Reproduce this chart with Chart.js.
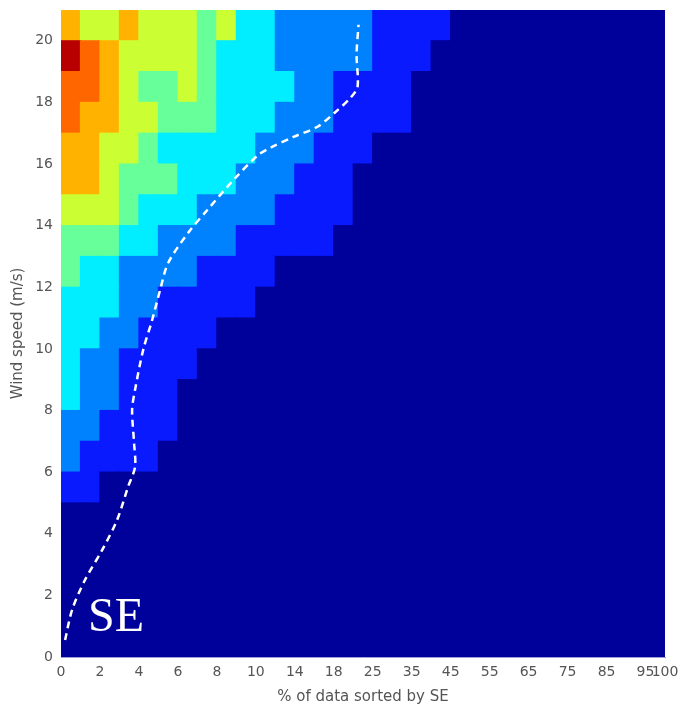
<!DOCTYPE html>
<html>
<head>
<meta charset="utf-8">
<script src="https://cdn.jsdelivr.net/npm/chart.js@4.4.1/dist/chart.umd.min.js"></script>
<style>
  html, body { margin: 0; padding: 0; background: #fff; }
  #wrap { width: 679px; height: 708px; }
</style>
</head>
<body>
<div id="wrap"><canvas id="heat"></canvas></div>
<script>
// x axis: 31 columns (sorted % bins), labels on column edges
var xTickPos = [0, 2, 4, 6, 8, 10, 12, 14, 16, 18, 20, 22, 24, 26, 28, 30, 31];
var xTickLabels = ['0', '2', '4', '6', '8', '10', '14', '18', '25', '35', '45', '55', '65', '75', '85', '95', '100'];
var yTickPos = [0, 2, 4, 6, 8, 10, 12, 14, 16, 18, 20];

// colour level of each cell, one row per 1 m/s bin (row 0 = 0-1 m/s)
var levelColors = ['#00009a', '#0a1aff', '#0082ff', '#00eeff', '#66ff99', '#ccff33', '#ffb300', '#ff6600', '#b80000'];

var row0  = [0,0,0,0,0,0,0,0,0,0,0,0,0,0,0,0,0,0,0,0,0,0,0,0,0,0,0,0,0,0,0];
var row1  = [0,0,0,0,0,0,0,0,0,0,0,0,0,0,0,0,0,0,0,0,0,0,0,0,0,0,0,0,0,0,0];
var row2  = [0,0,0,0,0,0,0,0,0,0,0,0,0,0,0,0,0,0,0,0,0,0,0,0,0,0,0,0,0,0,0];
var row3  = [0,0,0,0,0,0,0,0,0,0,0,0,0,0,0,0,0,0,0,0,0,0,0,0,0,0,0,0,0,0,0];
var row4  = [0,0,0,0,0,0,0,0,0,0,0,0,0,0,0,0,0,0,0,0,0,0,0,0,0,0,0,0,0,0,0];
var row5  = [1,1,0,0,0,0,0,0,0,0,0,0,0,0,0,0,0,0,0,0,0,0,0,0,0,0,0,0,0,0,0];
var row6  = [2,1,1,1,1,0,0,0,0,0,0,0,0,0,0,0,0,0,0,0,0,0,0,0,0,0,0,0,0,0,0];
var row7  = [2,2,1,1,1,1,0,0,0,0,0,0,0,0,0,0,0,0,0,0,0,0,0,0,0,0,0,0,0,0,0];
var row8  = [3,2,2,1,1,1,0,0,0,0,0,0,0,0,0,0,0,0,0,0,0,0,0,0,0,0,0,0,0,0,0];
var row9  = [3,2,2,1,1,1,1,0,0,0,0,0,0,0,0,0,0,0,0,0,0,0,0,0,0,0,0,0,0,0,0];
var row10 = [3,3,2,2,1,1,1,1,0,0,0,0,0,0,0,0,0,0,0,0,0,0,0,0,0,0,0,0,0,0,0];
var row11 = [3,3,3,2,2,1,1,1,1,1,0,0,0,0,0,0,0,0,0,0,0,0,0,0,0,0,0,0,0,0,0];
var row12 = [4,3,3,2,2,2,2,1,1,1,1,0,0,0,0,0,0,0,0,0,0,0,0,0,0,0,0,0,0,0,0];
var row13 = [4,4,4,3,3,2,2,2,2,1,1,1,1,1,0,0,0,0,0,0,0,0,0,0,0,0,0,0,0,0,0];
var row14 = [5,5,5,4,3,3,3,2,2,2,2,1,1,1,1,0,0,0,0,0,0,0,0,0,0,0,0,0,0,0,0];
var row15 = [6,6,5,4,4,4,3,3,3,2,2,2,1,1,1,0,0,0,0,0,0,0,0,0,0,0,0,0,0,0,0];
var row16 = [6,6,5,5,4,3,3,3,3,3,2,2,2,1,1,1,0,0,0,0,0,0,0,0,0,0,0,0,0,0,0];
var row17 = [7,6,6,5,5,4,4,4,3,3,3,2,2,2,1,1,1,1,0,0,0,0,0,0,0,0,0,0,0,0,0];
var row18 = [7,7,6,5,4,4,5,4,3,3,3,3,2,2,1,1,1,1,0,0,0,0,0,0,0,0,0,0,0,0,0];
var row19 = [8,7,6,5,5,5,5,4,3,3,3,2,2,2,2,2,1,1,1,0,0,0,0,0,0,0,0,0,0,0,0];
var row20 = [6,5,5,6,5,5,5,4,5,3,3,2,2,2,2,2,1,1,1,1,0,0,0,0,0,0,0,0,0,0,0];

var rows = [row0, row1, row2, row3, row4, row5, row6, row7, row8, row9, row10,
            row11, row12, row13, row14, row15, row16, row17, row18, row19, row20];

// white dashed curve (x in column units, y in m/s)
var lineX = [0.21, 0.57, 1.23, 2.11, 2.88, 3.44, 3.80, 3.75, 3.65, 3.80, 4.22, 4.68, 5.09,
             5.50, 6.53, 7.51, 8.95, 10.13, 10.75, 11.93, 13.16, 14.09, 14.86, 15.22, 15.17, 15.27];
var lineY = [0.55, 1.53, 2.50, 3.47, 4.45, 5.52, 6.17, 6.95, 8.02, 8.67, 9.97, 10.94, 11.92,
             12.79, 13.77, 14.51, 15.55, 16.30, 16.53, 16.88, 17.21, 17.69, 18.15, 18.51, 19.55, 20.52];

var panelLabel = 'SE';
var panelLabelPos = { x: 1.39, y: 0.84 };

var datasets = [];
rows.forEach(function (levels, r) {
  datasets.push({
    type: 'bar',
    data: levels.map(function (lev, c) { return { x: c + 0.5, y: [r, r + 1] }; }),
    backgroundColor: levels.map(function (lev) { return levelColors[lev]; }),
    borderWidth: 0,
    inflateAmount: 0.6,
    barPercentage: 1,
    categoryPercentage: 1,
    grouped: false,
    order: 2
  });
});

datasets.push({
  type: 'line',
  data: lineX.map(function (x, i) { return { x: x, y: lineY[i] }; }),
  borderColor: '#ffffff',
  borderWidth: 2.5,
  borderDash: [7, 5],
  pointRadius: 0,
  tension: 0.3,
  fill: false,
  order: 0
});

var labelPlugin = {
  id: 'panelLabel',
  afterDatasetsDraw: function (chart) {
    var ctx = chart.ctx;
    var px = chart.scales.x.getPixelForValue(panelLabelPos.x);
    var py = chart.scales.y.getPixelForValue(panelLabelPos.y);
    ctx.save();
    ctx.fillStyle = '#ffffff';
    ctx.font = '48px "Liberation Serif", "Times New Roman", serif';
    ctx.textAlign = 'left';
    ctx.textBaseline = 'alphabetic';
    ctx.fillText(panelLabel, px, py);
    ctx.restore();
  }
};

new Chart(document.getElementById('heat'), {
  type: 'bar',
  data: { datasets: datasets },
  plugins: [labelPlugin],
  options: {
    responsive: true,
    maintainAspectRatio: false,
    animation: false,
    layout: { padding: { top: 10, right: 14, left: 0, bottom: 0 } },
    plugins: {
      legend: { display: false },
      tooltip: { enabled: false }
    },
    scales: {
      x: {
        type: 'linear',
        min: 0,
        max: 31,
        offset: false,
        z: 1,
        grid: { display: false, drawTicks: false },
        border: { display: true, color: '#9c9cd6', width: 1 },
        afterBuildTicks: function (scale) {
          scale.ticks = xTickPos.map(function (v) { return { value: v }; });
        },
        afterFit: function (scale) {
          scale.height = 51;
          scale.paddingLeft = 0;
          scale.paddingRight = 0;
        },
        ticks: {
          autoSkip: false,
          maxRotation: 0,
          padding: 7,
          color: '#555',
          font: { family: 'DejaVu Sans', size: 14 },
          callback: function (value) { return xTickLabels[xTickPos.indexOf(value)]; }
        },
        title: {
          display: true,
          text: '% of data sorted by SE',
          color: '#555',
          font: { family: 'DejaVu Sans', size: 15 },
          padding: { top: 0, bottom: 2 }
        }
      },
      y: {
        type: 'linear',
        min: 0,
        max: 21,
        grid: { display: false, drawTicks: false },
        border: { display: false },
        afterBuildTicks: function (scale) {
          scale.ticks = yTickPos.map(function (v) { return { value: v }; });
        },
        afterFit: function (scale) {
          scale.width = 61;
          scale.paddingTop = 0;
          scale.paddingBottom = 0;
        },
        ticks: {
          padding: 8,
          color: '#555',
          font: { family: 'DejaVu Sans', size: 14 }
        },
        title: {
          display: true,
          text: 'Wind speed (m/s)',
          color: '#555',
          font: { family: 'DejaVu Sans', size: 15 },
          padding: { top: 9, bottom: 0 }
        }
      }
    }
  }
});
</script>
</body>
</html>
